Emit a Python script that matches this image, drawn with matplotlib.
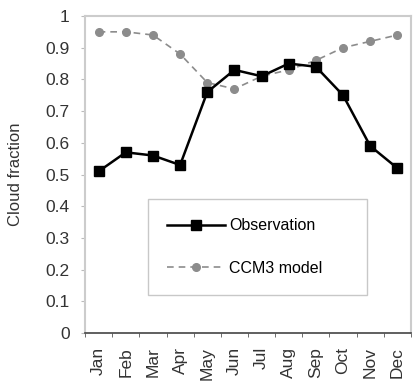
import matplotlib
matplotlib.use("Agg")
import matplotlib.pyplot as plt
import numpy as np

months = ["Jan", "Feb", "Mar", "Apr", "May", "Jun", "Jul", "Aug", "Sep", "Oct", "Nov", "Dec"]
observation = [0.51, 0.57, 0.56, 0.53, 0.76, 0.83, 0.81, 0.85, 0.84, 0.75, 0.59, 0.52]
ccm3_model = [0.95, 0.95, 0.94, 0.88, 0.79, 0.77, 0.81, 0.83, 0.86, 0.90, 0.92, 0.94]
yticks = [0, 0.1, 0.2, 0.3, 0.4, 0.5, 0.6, 0.7, 0.8, 0.9, 1]
ytick_labels = ["0", "0.1", "0.2", "0.3", "0.4", "0.5", "0.6", "0.7", "0.8", "0.9", "1"]

plt.rcParams['font.family'] = ['Liberation Sans', 'DejaVu Sans']

fig = plt.figure(figsize=(4.13, 3.90), dpi=100)
ax = fig.add_axes([0.206, 0.146, 0.789, 0.813])

x = np.arange(len(months))
ax.plot(x, ccm3_model, color="#8c8c8c", linestyle=(0, (4, 3)), linewidth=1.2,
        marker="o", markersize=5.5, markerfacecolor="#8c8c8c", markeredgecolor="#8c8c8c",
        label="CCM3 model", zorder=2)
ax.plot(x, observation, color="black", linestyle="-", linewidth=1.8,
        marker="s", markersize=7.5, markerfacecolor="black", markeredgecolor="black",
        label="Observation", zorder=3)

ax.set_xlim(-0.5, len(months) - 0.5)
ax.set_ylim(0, 1)
ax.set_yticks(yticks)
ax.set_yticklabels(ytick_labels, fontsize=12.5, color="#333333")
ax.set_xticks(x)
ax.set_xticklabels(months, rotation=90, fontsize=12.5, color="#333333")
ax.set_xticks(np.arange(-0.5, len(months), 1), minor=True)
ax.tick_params(axis="x", which="major", length=0, pad=10)
ax.tick_params(axis="x", which="minor", length=3, color="#555555")
ax.tick_params(axis="y", length=3, color="#bbbbbb", pad=8)
ax.set_ylabel("Cloud fraction", fontsize=12, color="#333333")
ax.yaxis.set_label_coords(-0.19, 0.5)

for s in ["top", "right", "left"]:
    ax.spines[s].set_color("#cccccc")
    ax.spines[s].set_linewidth(1.5)
ax.spines["bottom"].set_color("#444444")
ax.spines["bottom"].set_linewidth(1.2)

handles, labels = ax.get_legend_handles_labels()
leg = ax.legend(handles[::-1], labels[::-1], loc="upper left",
                bbox_to_anchor=(0.193, 0.139, 0.672, 0.283), mode="expand",
                borderaxespad=0.0, alignment="left", fontsize=11.5, frameon=True,
                fancybox=False, edgecolor="#bbbbbb", handlelength=3.6,
                labelspacing=1.7, borderpad=1.2, handletextpad=0.3)
leg.get_frame().set_linewidth(1.0)

fig.savefig("out.png", dpi=100)
